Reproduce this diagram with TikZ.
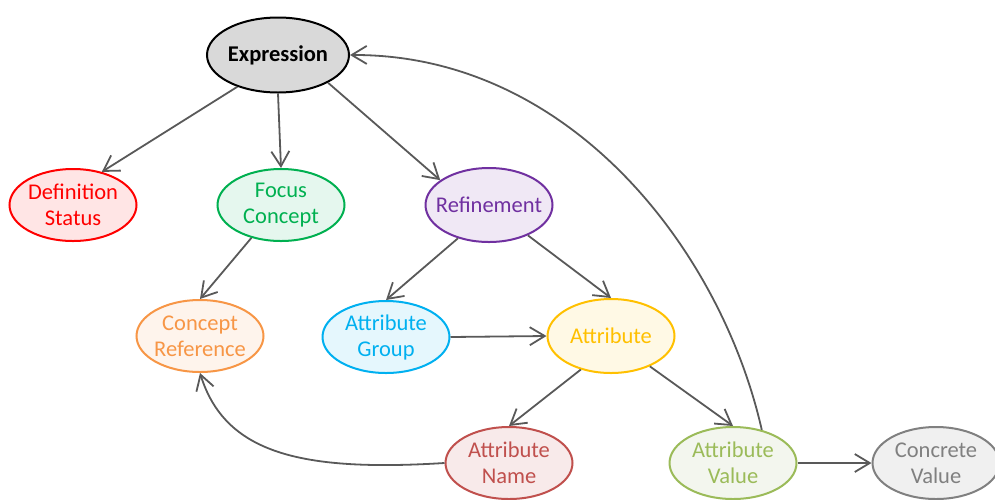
\documentclass[tikz,border=0pt]{standalone}
\usepackage{fontspec}
\setmainfont{Carlito}
\usetikzlibrary{arrows.meta,shapes.geometric}
\definecolor{edgegray}{HTML}{595959}
\tikzset{
  concept/.style={ellipse, draw, line width=2pt, minimum width=127pt, minimum height=72pt,
    inner xsep=-15pt, inner ysep=0pt, align=center, font=\fontsize{22.5}{26}\selectfont},
  link/.style={draw=edgegray, line width=1.8pt, -{Straight Barb[length=15pt,width=18pt,line width=1.8pt]}},
}
\begin{document}
\begin{tikzpicture}[x=1pt,y=-1pt]
\useasboundingbox (0,0) rectangle (995,499);
\node[concept, draw=black, fill={rgb,255:red,217;green,217;blue,217}, minimum width=142pt, minimum height=75pt, font=\bfseries\fontsize{22.5}{26}\selectfont] (expr) at (278,55) {Expression};
\node[concept, draw={rgb,255:red,255;green,0;blue,0}, fill={rgb,255:red,255;green,229;blue,229}, text={rgb,255:red,255;green,0;blue,0}] (defs) at (73,205) {Definition\\Status};
\node[concept, draw={rgb,255:red,0;green,176;blue,80}, fill={rgb,255:red,229;green,247;blue,238}, text={rgb,255:red,0;green,176;blue,80}] (focus) at (281,205) {Focus\\Concept};
\node[concept, draw={rgb,255:red,112;green,48;blue,160}, fill={rgb,255:red,240;green,232;blue,245}, text={rgb,255:red,112;green,48;blue,160}, minimum height=74pt] (refine) at (489,205) {Refinement};
\node[concept, draw={rgb,255:red,247;green,150;blue,70}, fill={rgb,255:red,254;green,244;blue,236}, text={rgb,255:red,247;green,150;blue,70}] (cref) at (200,336) {Concept\\Reference};
\node[concept, draw={rgb,255:red,0;green,176;blue,240}, fill={rgb,255:red,229;green,247;blue,253}, text={rgb,255:red,0;green,176;blue,240}] (agroup) at (386,337) {Attribute\\Group};
\node[concept, draw={rgb,255:red,255;green,192;blue,0}, fill={rgb,255:red,255;green,249;blue,229}, text={rgb,255:red,255;green,192;blue,0}, minimum height=74pt] (attr) at (611,336) {Attribute};
\node[concept, draw={rgb,255:red,192;green,80;blue,77}, fill={rgb,255:red,248;green,234;blue,234}, text={rgb,255:red,192;green,80;blue,77}] (aname) at (509,463) {Attribute\\Name};
\node[concept, draw={rgb,255:red,155;green,187;blue,89}, fill={rgb,255:red,243;green,246;blue,238}, text={rgb,255:red,155;green,187;blue,89}] (aval) at (733,463) {Attribute\\Value};
\node[concept, draw={rgb,255:red,128;green,128;blue,128}, fill={rgb,255:red,240;green,240;blue,240}, text={rgb,255:red,128;green,128;blue,128}] (cval) at (936,463) {Concrete\\Value};

\draw[link] (expr.218) -- (defs.49);
\draw[link] (expr.270) -- (focus.north);
\draw[link] (expr.-29) -- (refine.153);
\draw[link] (focus.228) -- (cref.north);
\draw[link] (refine.227) -- (agroup.north);
\draw[link] (refine.-38) -- (attr.north);
\draw[link] (agroup.east) -- (attr.west);
\draw[link] (attr.228) -- (aname.north);
\draw[link] (attr.-38) -- (aval.north);
\draw[link] (aval.east) -- (cval.west);
\draw[link] (aname.west) .. controls (300,472) and (225,453) .. (cref.south);
\draw[link] (aval.49) .. controls (721,250) and (570,54) .. (expr.east);
\end{tikzpicture}
\end{document}
